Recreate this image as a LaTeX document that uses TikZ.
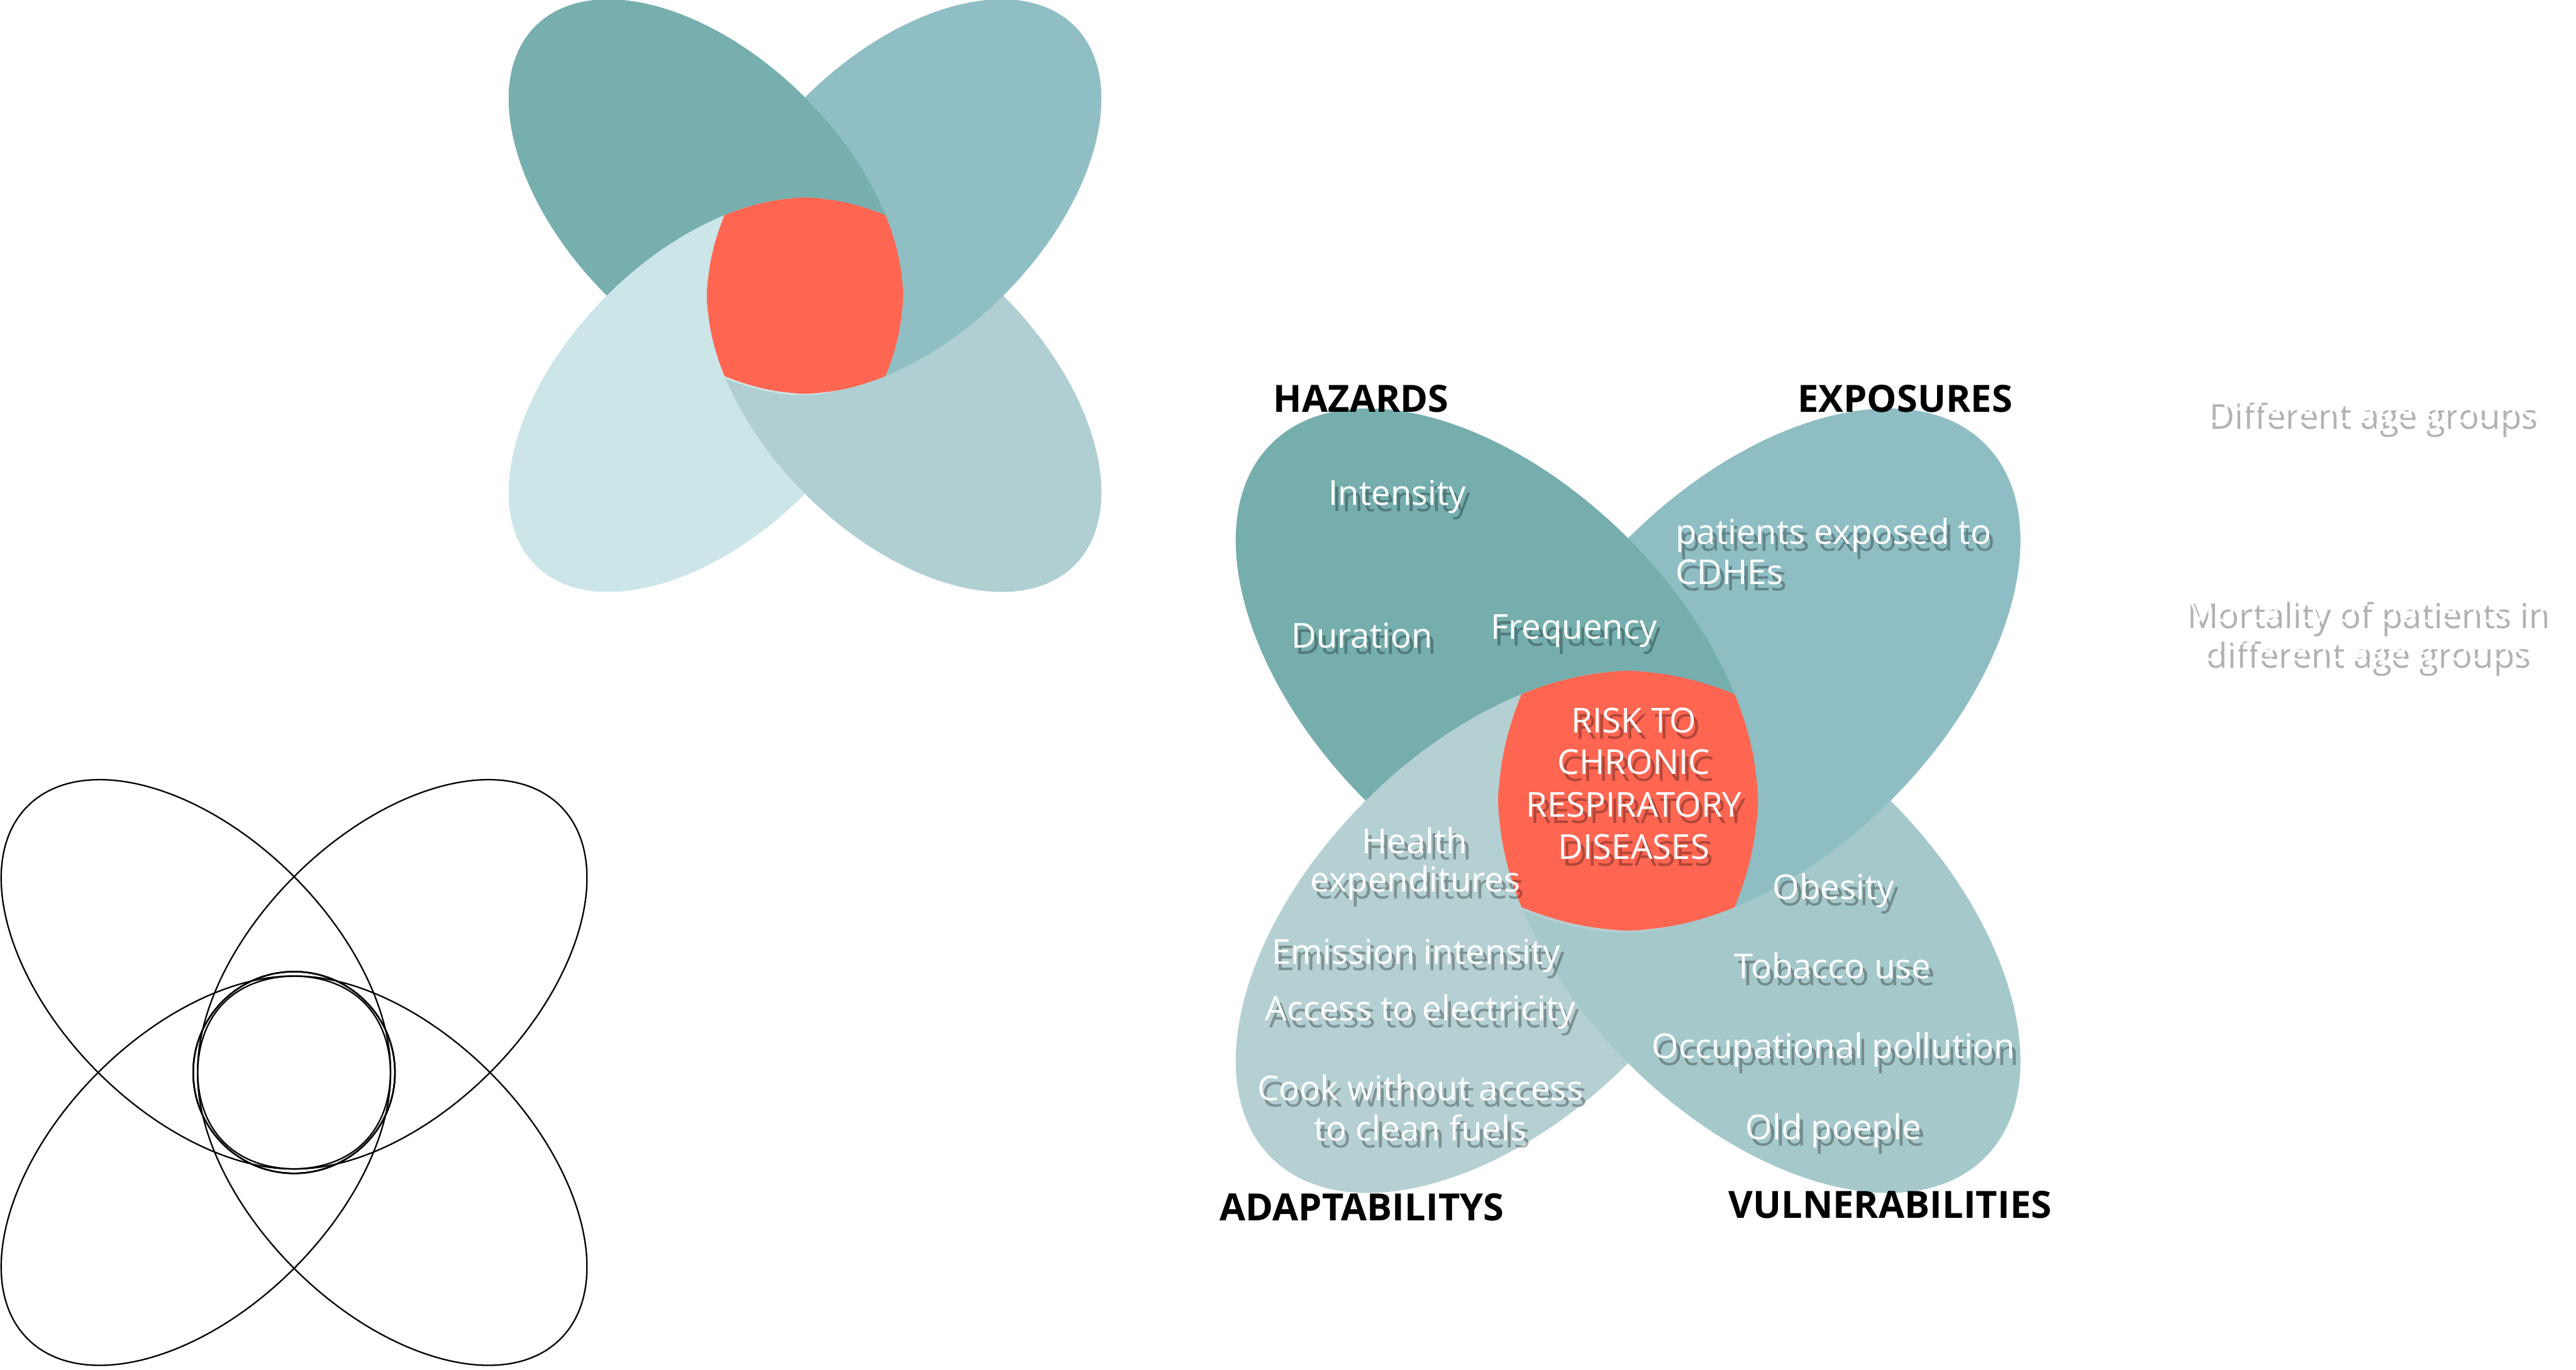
\documentclass[tikz,border=0pt]{standalone}
\usepackage{fontspec}
\setmainfont{Open Sans}
\definecolor{hazcol}{RGB}{118,174,174}
\definecolor{expcol}{RGB}{142,190,195}
\definecolor{adacol}{RGB}{181,208,210}
\definecolor{vulcol}{RGB}{165,200,203}
\definecolor{hazpale}{RGB}{119,175,175}
\definecolor{exppale}{RGB}{143,191,196}
\definecolor{adapale}{RGB}{204,229,232}
\definecolor{vulpale}{RGB}{176,207,210}
\definecolor{riskcol}{RGB}{255,102,82}
\tikzset{
  lbl/.style={text=white, font=\fontsize{11.9}{14}\selectfont, inner sep=0pt, anchor=base},
  head/.style={text=black, font=\fontsize{13}{15}\selectfont\bfseries, inner sep=0pt, anchor=base},
  outline/.style={draw=black, line width=0.5pt},
}
% one petal of the flower, #1 options, #2 direction
\newcommand{\leaf}[2]{\path[#1, rotate=#2] (0.716,0) ellipse [x radius=1.226, y radius=0.714];}
% coloured flower: #1 centre, #2 size, #3..#6 colours (tl, tr, bl, br)
\newcommand{\flower}[6]{%
  \begin{scope}[shift={(#1)}, scale=#2]
    \leaf{fill=#5}{225}
    \leaf{fill=#6}{-45}
    \leaf{fill=#4}{45}
    \leaf{fill=#3}{135}
    % bottom-left petal lies over the top-left one
    \begin{scope}
      \path[clip, rotate=135] (0.716,0) ellipse [x radius=1.236, y radius=0.724];
      \leaf{fill=#5}{225}
    \end{scope}
    % red centre
    \fill[riskcol] (0,0) circle (0.5);
    \begin{scope}\leaf{clip}{135}\leaf{fill=riskcol}{-45}\end{scope}
    \begin{scope}\leaf{clip}{45}\leaf{fill=riskcol}{225}\end{scope}
  \end{scope}}
% white text with a soft shadow
\newcommand{\shtext}[4][]{%
  \node[lbl, #1, text=black, opacity=0.3] (#3-s) at ([shift={(0.05,-0.08)}]#2) {#4};
  \node[lbl, #1] (#3) at (#2) {#4};}

\begin{document}
\begin{tikzpicture}
  \useasboundingbox (0,0) rectangle (31.36,16.676);
  % Flowers
  \flower{9.80,13.076}{2.39}{hazpale}{exppale}{adapale}{vulpale}
  \flower{19.82,6.926}{3.164}{hazcol}{expcol}{adacol}{vulcol}
  \begin{scope}[shift={(3.58,3.616)}, scale=2.362]
    \foreach \ang in {45,135,225,315}
      \leaf{outline}{\ang}
    \draw[outline] (0,0) circle (0.52);
  \end{scope}
  % Headings
  \node[head] (haz) at (16.57,11.656) {HAZARDS};
  \node[head] (exp) at (23.19,11.656) {EXPOSURES};
  \node[head] (ada) at (16.58,1.812) {ADAPTABILITYS};
  \node[head] (vul) at (23.01,1.846) {VULNERABILITIES};
  % Hazards
  \shtext{17.01,10.528}{int}{Intensity}
  \shtext{16.58,8.79}{dur}{Duration}
  \shtext{19.16,8.89}{freq}{Frequency}
  % Exposures
  \shtext[anchor=base west]{20.39,10.048}{pat1}{patients exposed to}
  \shtext[anchor=base west]{20.39,9.56}{pat2}{CDHEs}
  % Risk
  \shtext{19.89,7.756}{risk1}{RISK TO}
  \shtext{19.89,7.244}{risk2}{CHRONIC}
  \shtext{19.89,6.728}{risk3}{RESPIRATORY}
  \shtext{19.89,6.212}{risk4}{DISEASES}
  % Adaptabilitys
  \shtext{17.22,6.286}{hea1}{Health}
  \shtext{17.23,5.812}{hea2}{expenditures}
  \shtext{17.24,4.938}{emi}{Emission intensity}
  \shtext{17.29,4.244}{acc}{Access to electricity}
  \shtext{17.29,3.274}{cook1}{Cook without access}
  \shtext{17.29,2.782}{cook2}{to clean fuels}
  % Vulnerabilities
  \shtext{22.32,5.726}{obe}{Obesity}
  \shtext{22.31,4.758}{tob}{Tobacco use}
  \shtext{22.32,3.786}{occ}{Occupational pollution}
  \shtext{22.32,2.802}{old}{Old poeple}
  % Right side
  \shtext{28.85,11.53}{age}{Different age groups}
  \shtext{28.79,9.102}{mor1}{Mortality of patients in}
  \shtext{28.79,8.624}{mor2}{different age groups}
\end{tikzpicture}
\end{document}
